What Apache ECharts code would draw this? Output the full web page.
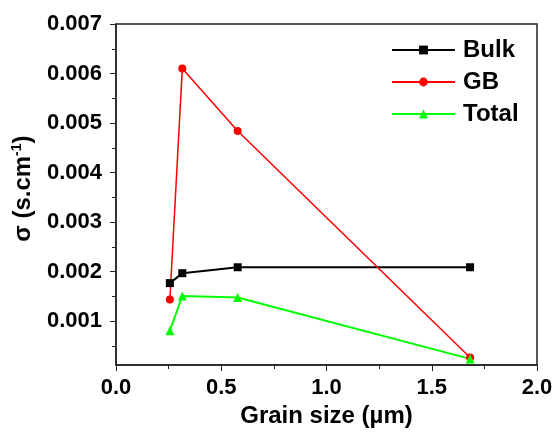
<!DOCTYPE html>
<html>
<head>
<meta charset="utf-8">
<script src="https://cdn.jsdelivr.net/npm/echarts@6/dist/echarts.min.js"></script>
<style>
  html, body { margin: 0; padding: 0; background: #fff; }
  #chart { width: 557px; height: 433px; }
</style>
</head>
<body>
<div id="chart"></div>
<script>
// grain size (µm) for each sample
const grainSize = [0.256, 0.315, 0.578, 1.682];
// conductivity, s.cm-1
const bulk = [0.00177, 0.00197, 0.00209, 0.00209];
const gb = [0.00144, 0.00610, 0.00484, 0.00027];
const total = [0.00081, 0.00151, 0.00148, 0.00024];
// y axis labels and minor ticks
const yTicks = [0.001, 0.002, 0.003, 0.004, 0.005, 0.006, 0.007];
const yMinor = [0.0005, 0.0015, 0.0025, 0.0035, 0.0045, 0.0055, 0.0065];

const pairs = (ys) => grainSize.map((x, i) => [x, ys[i]]);

const font = 'Liberation Sans, Arial, sans-serif';
const axisColor = '#222';

const chart = echarts.init(document.getElementById('chart'));

const option = {
    animation: false,
    grid: {
        left: 116, right: 20, top: 24, bottom: 67,
        show: true,
        borderColor: axisColor,
        borderWidth: 1.5
    },
    legend: {
        orient: 'vertical',
        left: 391,
        top: 38,
        padding: 0,
        itemWidth: 63,
        itemHeight: 11,
        itemGap: 8,
        textStyle: { fontFamily: font, fontSize: 24, fontWeight: 'bold', color: '#000', padding: [0, 0, 0, 3] },
        data: ['Bulk', 'GB', 'Total']
    },
    xAxis: {
        type: 'value',
        min: 0,
        max: 2,
        interval: 0.5,
        name: 'Grain size (µm)',
        nameLocation: 'middle',
        nameGap: 34,
        nameTextStyle: { fontFamily: font, fontSize: 24, fontWeight: 'bold', color: '#000' },
        axisLine: { lineStyle: { color: axisColor, width: 1.5 } },
        axisTick: { inside: false, length: 6, lineStyle: { color: axisColor } },
        minorTick: { show: true, splitNumber: 2, length: 4, lineStyle: { color: axisColor } },
        splitLine: { show: false },
        axisLabel: {
            fontFamily: font, fontSize: 22, fontWeight: 'bold', color: '#000', margin: 12,
            formatter: (v) => v.toFixed(1)
        }
    },
    yAxis: [{
        type: 'value',
        min: 0.000115,
        max: 0.007,
        name: '{a|σ (s.cm}{sup|-1}{a|)}',
        nameLocation: 'middle',
        nameGap: 80,
        nameTextStyle: {
            padding: [0, 0, 0, 12],
            rich: {
                a: { fontFamily: font, fontSize: 24, fontWeight: 'bold', color: '#000' },
                sup: { fontFamily: font, fontSize: 14, fontWeight: 'bold', color: '#000', verticalAlign: 'top', padding: [0, 0, 12, 0] }
            }
        },
        axisLine: { show: true, lineStyle: { color: axisColor, width: 1.5 } },
        axisTick: { show: true, length: 6, customValues: yTicks, lineStyle: { color: axisColor } },
        splitLine: { show: false },
        axisLabel: {
            customValues: yTicks,
            fontFamily: font, fontSize: 22, fontWeight: 'bold', color: '#000', margin: 14,
            formatter: (v) => v.toFixed(3)
        }
    }, {
        // minor ticks only
        type: 'value',
        position: 'left',
        min: 0.000115,
        max: 0.007,
        axisLine: { show: false },
        axisTick: { show: true, length: 4, customValues: yMinor, lineStyle: { color: axisColor } },
        axisLabel: { show: false },
        splitLine: { show: false }
    }],
    series: [
        {
            name: 'Bulk', type: 'line', data: pairs(bulk),
            symbol: 'rect', symbolSize: 8,
            itemStyle: { color: '#000' },
            lineStyle: { color: '#000', width: 2 }
        },
        {
            name: 'GB', type: 'line', data: pairs(gb),
            symbol: 'circle', symbolSize: 8,
            itemStyle: { color: '#ff0000' },
            lineStyle: { color: '#ff0000', width: 1.5 }
        },
        {
            name: 'Total', type: 'line', data: pairs(total),
            symbol: 'triangle', symbolSize: 9,
            itemStyle: { color: '#00ff00' },
            lineStyle: { color: '#00ff00', width: 2 }
        }
    ]
};

chart.setOption(option);
</script>
</body>
</html>
